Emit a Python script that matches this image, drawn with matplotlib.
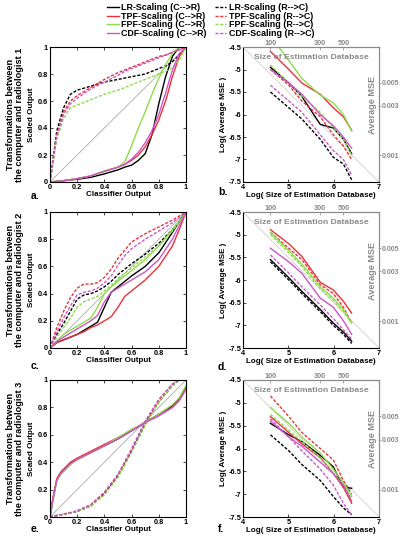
import numpy as np
import matplotlib
matplotlib.use('Agg')
import matplotlib.pyplot as plt
from matplotlib.ticker import FuncFormatter

plt.rcParams['font.family'] = ['Liberation Sans', 'DejaVu Sans']
plt.rcParams['font.weight'] = 'bold'
plt.rcParams['axes.unicode_minus'] = False

# ---- colours / names
methods = ['LR', 'TPF', 'FPF', 'CDF']
colors = {'LR': 'black', 'TPF': '#e8323c', 'FPF': '#8fdc4c', 'CDF': '#c957c9'}

# ---- left column: transformations (classifier output -> scaled output)
xa = [0, 0.05, 0.1, 0.15, 0.2, 0.3, 0.4, 0.5, 0.55, 0.6, 0.65, 0.7, 0.75, 0.8, 0.85, 0.9, 0.95, 1]
a_cr = {
    'LR':  [0, 0.005, 0.01, 0.015, 0.02, 0.035, 0.06, 0.09, 0.11, 0.125, 0.16, 0.21, 0.35, 0.58, 0.78, 0.93, 1.0, 1.0],
    'TPF': [0, 0.004, 0.01, 0.017, 0.025, 0.045, 0.08, 0.11, 0.13, 0.16, 0.2, 0.26, 0.35, 0.46, 0.6, 0.78, 0.93, 1.0],
    'FPF': [0, 0.004, 0.01, 0.017, 0.025, 0.045, 0.075, 0.11, 0.15, 0.27, 0.4, 0.52, 0.65, 0.77, 0.87, 0.95, 1.0, 1.0],
    'CDF': [0, 0.004, 0.01, 0.017, 0.025, 0.045, 0.08, 0.11, 0.13, 0.17, 0.22, 0.29, 0.38, 0.5, 0.66, 0.83, 0.95, 1.0],
}
a_rc = {
    'LR':  [0, 0.38, 0.55, 0.65, 0.68, 0.71, 0.74, 0.76, 0.77, 0.78, 0.79, 0.8, 0.82, 0.84, 0.86, 0.89, 0.94, 1.0],
    'TPF': [0, 0.35, 0.52, 0.6, 0.64, 0.7, 0.76, 0.81, 0.83, 0.85, 0.87, 0.89, 0.91, 0.93, 0.94, 0.96, 0.98, 1.0],
    'FPF': [0, 0.32, 0.47, 0.55, 0.57, 0.61, 0.65, 0.68, 0.7, 0.72, 0.74, 0.76, 0.78, 0.8, 0.82, 0.85, 0.9, 1.0],
    'CDF': [0, 0.34, 0.5, 0.58, 0.62, 0.69, 0.74, 0.79, 0.82, 0.84, 0.86, 0.88, 0.9, 0.92, 0.94, 0.96, 0.98, 1.0],
}

xc = [0, 0.05, 0.1, 0.15, 0.2, 0.25, 0.3, 0.35, 0.4, 0.45, 0.5, 0.55, 0.6, 0.7, 0.8, 0.9, 0.95, 1]
c_cr = {
    'LR':  [0, 0.04, 0.06, 0.08, 0.1, 0.13, 0.16, 0.19, 0.3, 0.41, 0.45, 0.49, 0.53, 0.6, 0.7, 0.85, 0.93, 1.0],
    'TPF': [0, 0.04, 0.06, 0.08, 0.1, 0.12, 0.15, 0.17, 0.2, 0.23, 0.3, 0.38, 0.42, 0.5, 0.6, 0.75, 0.87, 1.0],
    'FPF': [0, 0.05, 0.1, 0.13, 0.16, 0.19, 0.22, 0.3, 0.4, 0.45, 0.49, 0.53, 0.57, 0.65, 0.75, 0.87, 0.93, 1.0],
    'CDF': [0, 0.05, 0.08, 0.11, 0.14, 0.17, 0.2, 0.24, 0.34, 0.41, 0.44, 0.47, 0.5, 0.56, 0.65, 0.8, 0.9, 1.0],
}
c_rc = {
    'LR':  [0, 0.1, 0.18, 0.27, 0.36, 0.39, 0.4, 0.42, 0.45, 0.49, 0.54, 0.58, 0.62, 0.69, 0.77, 0.87, 0.93, 1.0],
    'TPF': [0, 0.15, 0.27, 0.37, 0.44, 0.47, 0.47, 0.48, 0.52, 0.58, 0.66, 0.72, 0.78, 0.84, 0.89, 0.94, 0.97, 1.0],
    'FPF': [0, 0.08, 0.15, 0.22, 0.3, 0.34, 0.36, 0.38, 0.42, 0.46, 0.51, 0.55, 0.59, 0.67, 0.75, 0.86, 0.93, 1.0],
    'CDF': [0, 0.12, 0.22, 0.31, 0.39, 0.41, 0.42, 0.44, 0.48, 0.53, 0.61, 0.68, 0.73, 0.8, 0.86, 0.92, 0.96, 1.0],
}

xe = [0, 0.02, 0.05, 0.08, 0.1, 0.15, 0.2, 0.3, 0.4, 0.5, 0.6, 0.7, 0.8, 0.9, 0.95, 1]
e_cr = {
    'LR':  [0, 0.12, 0.27, 0.32, 0.34, 0.39, 0.42, 0.47, 0.52, 0.57, 0.63, 0.69, 0.75, 0.81, 0.86, 0.95],
    'TPF': [0, 0.13, 0.28, 0.33, 0.35, 0.4, 0.43, 0.48, 0.53, 0.58, 0.63, 0.69, 0.74, 0.8, 0.85, 0.94],
    'FPF': [0, 0.11, 0.26, 0.31, 0.33, 0.38, 0.42, 0.47, 0.52, 0.58, 0.64, 0.69, 0.75, 0.82, 0.87, 0.96],
    'CDF': [0, 0.12, 0.27, 0.32, 0.34, 0.39, 0.42, 0.47, 0.52, 0.57, 0.63, 0.69, 0.74, 0.8, 0.85, 0.93],
}
e_rc = {
    'LR':  [0, 0.005, 0.01, 0.015, 0.02, 0.03, 0.04, 0.08, 0.17, 0.3, 0.48, 0.68, 0.84, 0.96, 1.0, 1.0],
    'TPF': [0, 0.006, 0.012, 0.017, 0.022, 0.032, 0.045, 0.09, 0.18, 0.31, 0.49, 0.69, 0.85, 0.97, 1.0, 1.0],
    'FPF': [0, 0.005, 0.01, 0.015, 0.02, 0.03, 0.04, 0.08, 0.16, 0.29, 0.47, 0.67, 0.84, 0.96, 1.0, 1.0],
    'CDF': [0, 0.006, 0.012, 0.017, 0.022, 0.032, 0.045, 0.09, 0.18, 0.31, 0.5, 0.7, 0.86, 0.97, 1.0, 1.0],
}

# ---- right column: log(average MSE) vs log(size of estimation database)
sizes = [100, 150, 200, 300, 400, 500, 600]
b_cr = {
    'LR':  [-4.95, -5.3, -5.6, -6.22, -6.3, -6.55, -6.87],
    'TPF': [-4.6, -5.0, -5.3, -5.55, -5.85, -6.05, -6.35],
    'FPF': [-4.25, -4.8, -5.2, -5.57, -5.74, -6.0, -6.37],
    'CDF': [-5.0, -5.3, -5.55, -6.0, -6.25, -6.5, -6.75],
}
b_rc = {
    'LR':  [-5.5, -5.85, -6.1, -6.55, -6.95, -7.1, -7.45],
    'TPF': [-5.0, -5.35, -5.7, -6.05, -6.45, -6.7, -7.0],
    'FPF': [-4.9, -5.3, -5.6, -5.95, -6.3, -6.55, -6.9],
    'CDF': [-5.35, -5.7, -5.95, -6.45, -6.8, -7.0, -7.35],
}
d_cr = {
    'LR':  [-5.55, -5.95, -6.25, -6.65, -6.95, -7.15, -7.35],
    'TPF': [-4.89, -5.2, -5.48, -6.05, -6.22, -6.47, -6.73],
    'FPF': [-4.95, -5.35, -5.65, -6.15, -6.4, -6.65, -6.95],
    'CDF': [-5.3, -5.6, -5.85, -6.4, -6.6, -6.9, -7.2],
}
d_rc = {
    'LR':  [-5.6, -6.0, -6.3, -6.7, -7.0, -7.2, -7.4],
    'TPF': [-4.95, -5.3, -5.55, -6.1, -6.3, -6.6, -6.95],
    'FPF': [-5.0, -5.4, -5.7, -6.2, -6.45, -6.7, -6.95],
    'CDF': [-5.45, -5.85, -6.15, -6.55, -6.85, -7.1, -7.3],
}
f_cr = {
    'LR':  [-5.45, -5.7, -5.85, -6.15, -6.4, -6.85, -6.87],
    'TPF': [-5.3, -5.65, -5.9, -6.2, -6.55, -6.85, -7.2],
    'FPF': [-5.1, -5.45, -5.75, -6.1, -6.45, -6.75, -7.05],
    'CDF': [-5.4, -5.75, -5.95, -6.3, -6.55, -6.8, -7.15],
}
f_rc = {
    'LR':  [-5.7, -6.05, -6.35, -6.7, -7.05, -7.3, -7.45],
    'TPF': [-4.85, -5.3, -5.65, -6.0, -6.25, -6.7, -7.0],
    'FPF': [-5.25, -5.6, -5.85, -6.2, -6.55, -6.8, -7.1],
    'CDF': [-5.35, -5.75, -6.05, -6.45, -6.8, -7.2, -7.45],
}

top_ticks = [100, 300, 500]
right_ticks = [0.005, 0.003, 0.001]

######
W, H = 400, 539
fig = plt.figure(figsize=(W / 100, H / 100), dpi=100)

def rect(x0, y0, x1, y1):
    return [x0 / W, 1 - y1 / H, (x1 - x0) / W, (y1 - y0) / H]

rows = [(47, 182), (212, 348), (380, 517)]
left_data = [(xa, a_cr, a_rc), (xc, c_cr, c_rc), (xe, e_cr, e_rc)]
right_data = [(b_cr, b_rc), (d_cr, d_rc), (f_cr, f_rc)]
letters = [('a.', 'b.'), ('c.', 'd.'), ('e.', 'f.')]
letter_y = [(196, 192), (366, 367), (529, 529)]

DASH = (0, (2.2, 1.2))
fmt = FuncFormatter(lambda v, p: '%g' % v)
TS = 5.3
LS = 5.8
gray = '#8a8a8a'
handles = {}

for i, (y0, y1) in enumerate(rows):
    # left panel
    ax = fig.add_axes(rect(50, y0, 186, y1))
    xs, cr, rc = left_data[i]
    ax.plot([0, 1], [0, 1], color='#aaaaaa', lw=0.6)
    for m in methods:
        h1, = ax.plot(xs, cr[m], color=colors[m], lw=1.0)
        h2, = ax.plot(xs, rc[m], color=colors[m], lw=1.0, linestyle=DASH)
        handles[(m, 'cr')] = h1
        handles[(m, 'rc')] = h2
    ax.set(xlim=[0, 1], ylim=[0, 1])
    ax.set_xticks(np.arange(0, 1.01, 0.2))
    ax.set_yticks(np.arange(0, 1.01, 0.2))
    ax.xaxis.set_major_formatter(fmt)
    ax.yaxis.set_major_formatter(fmt)
    ax.tick_params(direction='in', length=2, width=0.5, labelsize=TS, pad=1.5,
                   top=True, right=True)
    ax.set_xlabel('Classifier Output', fontsize=LS, fontweight='bold', labelpad=0)
    ax.set_ylabel('Scaled Output', fontsize=LS, fontweight='bold', labelpad=2)
    for s in ax.spines.values():
        s.set_linewidth(0.8)
    fig.text(15 / W, 1 - (y0 + y1) / 2 / H,
             'Transformations between\nthe computer and radiologist %d' % (i + 1),
             rotation=90, ha='center', va='center', fontsize=6.6, fontweight='bold',
             multialignment='center', linespacing=1.1)
    fig.text(31 / W, 1 - letter_y[i][0] / H, letters[i][0], fontsize=7.5,
             fontweight='bold', va='center')

    # right panel
    ax = fig.add_axes(rect(243, y0, 379, y1))
    cr, rc = right_data[i]
    lx = np.log(sizes)
    ax.plot([4, 7], [-4.5, -7.5], color='#d0d0d0', lw=0.6)
    for m in methods:
        ax.plot(lx, cr[m], color=colors[m], lw=1.0)
        ax.plot(lx, rc[m], color=colors[m], lw=1.0, linestyle=DASH)
    ax.set(xlim=[4, 7], ylim=[-7.5, -4.5])
    ax.set_xticks([4, 5, 6, 7])
    ax.set_yticks(np.arange(-7.5, -4.49, 0.5))
    ax.xaxis.set_major_formatter(fmt)
    ax.yaxis.set_major_formatter(fmt)
    ax.tick_params(direction='in', length=2, width=0.5, labelsize=TS, pad=1.2)
    ax.set_xlabel('Log( Size of Estimation Database)', fontsize=LS,
                  fontweight='bold', labelpad=1)
    ax.set_ylabel('Log( Average MSE )', fontsize=LS, fontweight='bold', labelpad=1)
    for s in ax.spines.values():
        s.set_linewidth(0.8)
    ax.spines['top'].set_color(gray)
    ax.spines['right'].set_color(gray)

    sx = ax.secondary_xaxis('top')
    sx.set_xticks(np.log(top_ticks), labels=[str(t) for t in top_ticks])
    sx.tick_params(colors=gray, direction='in', length=2, width=0.5,
                   labelsize=TS, pad=0.2)
    sx.spines['top'].set_color(gray)
    sy = ax.secondary_yaxis('right')
    sy.set_yticks(np.log(right_ticks), labels=['%g' % t for t in right_ticks])
    sy.tick_params(colors=gray, direction='out', length=1.5, width=0.5,
                   labelsize=5, pad=0.3)
    sy.spines['right'].set_color(gray)
    ax.text(0.5, 0.925, 'Size of Estimation Database', transform=ax.transAxes,
            ha='center', va='center', fontsize=6.1, color=gray, fontweight='bold')
    ax.text(0.95, 0.57, 'Average MSE', transform=ax.transAxes, rotation=90,
            ha='center', va='center', fontsize=6.6, color=gray, fontweight='bold')
    fig.text(218 / W, 1 - letter_y[i][1] / H, letters[i][1], fontsize=7.5,
             fontweight='bold', va='center')

# legend
order = [(m, 'cr') for m in methods] + [(m, 'rc') for m in methods]
labels = ['%s-Scaling (%s)' % (m, 'C-->R' if d == 'cr' else 'R-->C') for m, d in order]
fig.legend([handles[k] for k in order], labels, ncol=2, loc='upper center',
           bbox_to_anchor=(0.527, 1.004), frameon=False, fontsize=6.4,
           handlelength=1.3, handletextpad=0.3, columnspacing=0.9,
           labelspacing=-0.05, borderpad=0.1)

fig.savefig('out.png', dpi=100)
